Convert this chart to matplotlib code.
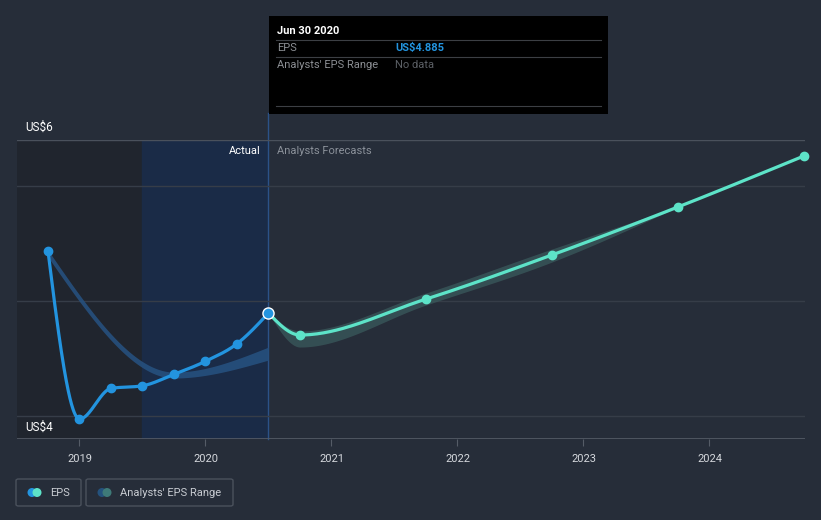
import numpy as np
import matplotlib.pyplot as plt
from matplotlib.patches import FancyBboxPatch, Rectangle, Ellipse

plt.rcParams['font.family'] = ['Roboto', 'DejaVu Sans']

# %% data
act_t = [2018.75, 2019.0, 2019.25, 2019.5, 2019.75, 2020.0, 2020.25, 2020.5]
act_eps = [5.193, 3.978, 4.200, 4.219, 4.302, 4.396, 4.523, 4.745]

fc_t = [2020.5, 2020.75, 2021.75, 2022.75, 2023.75, 2024.75]
fc_eps = [4.745, 4.586, 4.846, 5.165, 5.512, 5.881]

past_rng_t = [2018.75, 2019.75, 2020.5]
past_rng_lo = [5.150, 4.275, 4.405]
past_rng_hi = [5.200, 4.318, 4.499]

fc_rng_t = [2020.5, 2020.75, 2021.75, 2022.75, 2023.75]
fc_rng_lo = [4.745, 4.499, 4.803, 5.114, 5.512]
fc_rng_hi = [4.745, 4.615, 4.890, 5.208, 5.512]

years = [2019, 2020, 2021, 2022, 2023, 2024]
grid_vals = [4.0, 4.833, 5.667, 6.0]

# colours
BG = '#262d39'
BLUE = '#2394df'
TEAL = '#5de3c8'


# %% monotone curve (like d3 curveMonotoneX)
def monotone(x, y, n=60):
    x = np.asarray(x, float)
    y = np.asarray(y, float)
    h = np.diff(x)
    s = np.diff(y) / h
    m = np.zeros(len(x))
    for i in range(1, len(x) - 1):
        p = (s[i - 1] * h[i] + s[i] * h[i - 1]) / (h[i - 1] + h[i])
        m[i] = (np.sign(s[i - 1]) + np.sign(s[i])) * min(abs(s[i - 1]), abs(s[i]), 0.5 * abs(p))
    if len(x) > 2:
        m[0] = (3 * s[0] - m[1]) / 2
        m[-1] = (3 * s[-1] - m[-2]) / 2
    else:
        m[0] = m[-1] = s[0]
    xs, ys = [], []
    for i in range(len(x) - 1):
        u = np.linspace(0, 1, n)
        h00 = 2 * u**3 - 3 * u**2 + 1
        h10 = u**3 - 2 * u**2 + u
        h01 = -2 * u**3 + 3 * u**2
        h11 = u**3 - u**2
        xs.append(x[i] + u * h[i])
        ys.append(h00 * y[i] + h10 * h[i] * m[i] + h01 * y[i + 1] + h11 * h[i] * m[i + 1])
    return np.concatenate(xs), np.concatenate(ys)


# %% figure
fig = plt.figure(figsize=(8.21, 5.2), dpi=100)
fig.patch.set_facecolor(BG)
W, H = 821, 520
ax = fig.add_axes([17 / W, (H - 439) / H, (805 - 17) / W, (439 - 139.5) / H])
ax.set_facecolor(BG)
x0, x1 = 2018.504, 2024.758
y0, y1 = 3.834, 6.0
ax.set_xlim(x0, x1)
ax.set_ylim(y0, y1)
for sp in ax.spines.values():
    sp.set_visible(False)

# shaded periods
ax.axvspan(x0, 2019.5, color='#20252e', zorder=0)
ax.axvspan(2019.5, 2020.5, color='#1a2b47', zorder=0)
ax.axvline(2020.5, ymin=0, ymax=1.09, color='#2b5288', lw=1, zorder=1, clip_on=False)

# gridlines
for g in grid_vals:
    c = '#4a515c' if g == 6.0 else '#363d48'
    ax.axhline(g, color=c, lw=1, zorder=1)
ax.axhline(y0, color='#555c67', lw=1.2, zorder=1)

# ranges
bx, blo = monotone(past_rng_t, past_rng_lo)
_, bhi = monotone(past_rng_t, past_rng_hi)
ax.fill_between(bx, blo, bhi, color='#26507e', alpha=0.9, lw=0, zorder=2)
fx, flo = monotone(fc_rng_t, fc_rng_lo)
_, fhi = monotone(fc_rng_t, fc_rng_hi)
ax.fill_between(fx, flo, fhi, color='#3a5a5c', alpha=0.75, lw=0, zorder=2)

# lines
ax_x, ax_y = monotone(act_t, act_eps)
ax.plot(ax_x, ax_y, color=BLUE, lw=2.3, zorder=3, solid_capstyle='round')
ax.plot(act_t[:-1], act_eps[:-1], 'o', color=BLUE, ms=6, zorder=4)
fx2, fy2 = monotone(fc_t, fc_eps)
ax.plot(fx2, fy2, color=TEAL, lw=2.3, zorder=3, solid_capstyle='round')
ax.plot(fc_t[1:], fc_eps[1:], 'o', color=TEAL, ms=6, zorder=4, clip_on=False)
ax.plot(act_t[-1], act_eps[-1], 'o', color=BLUE, mec='white', mew=1, ms=8, zorder=5)

# axis ticks
ax.set_yticks([])
ax.set_xticks(years)
ax.set_xticklabels([str(y) for y in years], color='#d5d8dd', fontsize=8)
ax.tick_params(axis='x', length=5, color='#555c67', pad=6)

ax.text(0.01, 1.0 + 12 / 299.5, 'US$6', transform=ax.transAxes, color='white',
        fontsize=8.5, va='center', ha='left')
ax.text(0.01, 12 / 299.5, 'US$4', transform=ax.transAxes, color='white',
        fontsize=8.5, va='center', ha='left')
ax.text(2020.5 - 0.065, 5.92, 'Actual', color='white', fontsize=8, ha='right', va='center')
ax.text(2020.5 + 0.065, 5.92, 'Analysts Forecasts', color='#8b919a', fontsize=8,
        ha='left', va='center')

# tooltip
def px(x, y):
    return x / W, (H - y) / H

fig.patches.append(Rectangle(px(269, 114), 339 / W, 98 / H, transform=fig.transFigure,
                             facecolor='black', edgecolor='none', zorder=10))
for ly in [40, 57, 106]:
    fig.add_artist(plt.Line2D([276 / W, 601 / W], [(H - ly) / H] * 2, color='#3c3f44',
                              lw=0.8, zorder=11))
fig.text(*px(277, 31), 'Jun 30 2020', color='white', fontsize=8, fontweight='bold',
         va='center', zorder=12)
fig.text(*px(277, 48), 'EPS', color='#8c8f94', fontsize=8, va='center', zorder=12)
fig.text(*px(395, 48), 'US$4.885', color=BLUE, fontsize=8, fontweight='bold',
         va='center', zorder=12)
fig.text(*px(277, 65), "Analysts' EPS Range", color='#8c8f94', fontsize=8, va='center', zorder=12)
fig.text(*px(395, 65), 'No data', color='#5c6066', fontsize=8, va='center', zorder=12)

# legend
for (lx, lw_) in [(16, 65), (86, 147)]:
    fig.patches.append(FancyBboxPatch(px(lx, 506), lw_ / W, 27 / H, transform=fig.transFigure,
                                      boxstyle='round,pad=0,rounding_size=0.003',
                                      facecolor='none', edgecolor='#4a515c', lw=1, zorder=10))
for cx, col in [(32, BLUE), (37, TEAL), (102, '#24527d'), (107, '#3e7a78')]:
    fig.patches.append(Ellipse(px(cx, 492.5), 9 / W, 9 / H, transform=fig.transFigure,
                               facecolor=col, edgecolor='none', zorder=11))
fig.text(*px(50, 492.5), 'EPS', color='#c8ccd2', fontsize=8, va='center')
fig.text(*px(120, 492.5), "Analysts' EPS Range", color='#c8ccd2', fontsize=8, va='center')

fig.savefig('out.png', dpi=100, facecolor=BG)
